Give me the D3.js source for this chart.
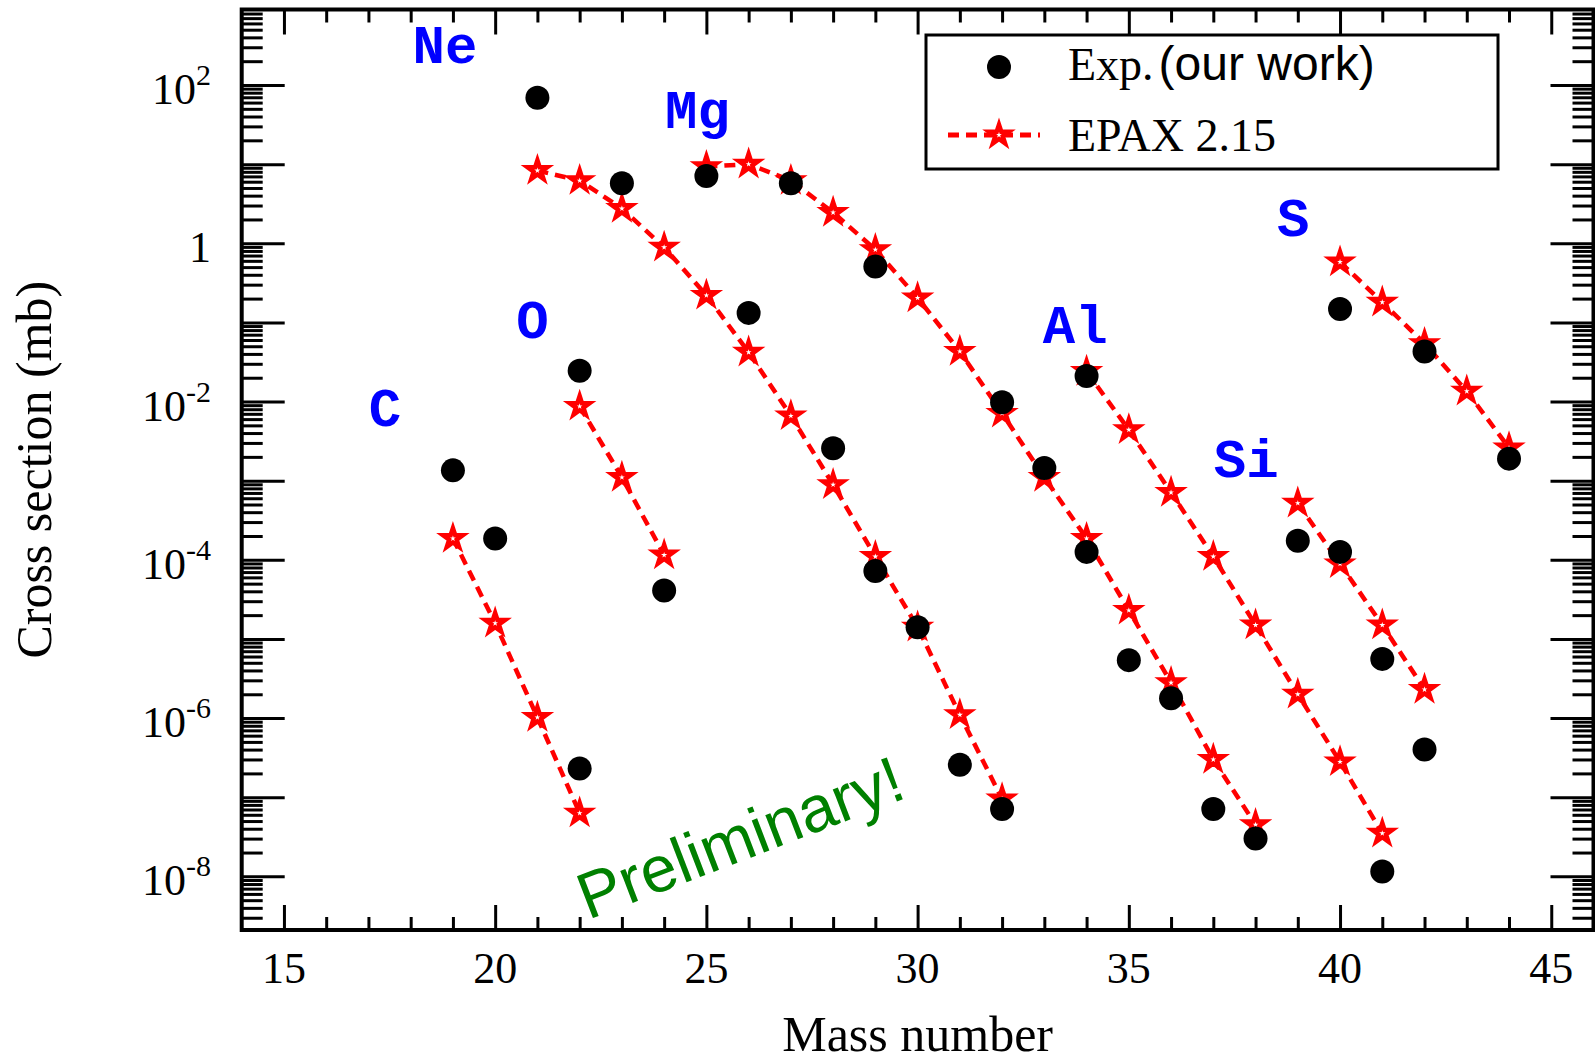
<!DOCTYPE html>
<html>
<head>
<meta charset="utf-8">
<script src="https://cdn.jsdelivr.net/npm/d3@7"></script>
<style>
  body { margin: 0; background: #fff; }
  svg { display: block; }
  .serif { font-family: "Liberation Serif", "Times New Roman", serif; }
  .sans { font-family: "Liberation Sans", Arial, sans-serif; }
  .mono { font-family: "Liberation Mono", "Courier New", monospace; font-weight: bold; }
</style>
</head>
<body>
<div id="chart"></div>
<script>
// tick values
const massTicks = [15, 20, 25, 30, 35, 40, 45];
const sigmaLabelExps = [2, 0, -2, -4, -6, -8];

// measured cross sections [mass number, sigma in mb]
const expC  = [[19, 1.35e-3], [20, 1.86e-4], [22, 2.3e-7]];
const expO  = [[22, 2.45e-2], [24, 4.1e-5]];
const expNe = [[21, 69], [23, 5.75], [26, 0.132], [28, 2.57e-3], [29, 7.2e-5], [30, 1.41e-5], [31, 2.57e-7], [32, 7.1e-8]];
const expMg = [[25, 7.1], [27, 5.75], [29, 0.51], [32, 9.8e-3], [33, 1.45e-3], [34, 1.26e-4], [35, 5.4e-6], [36, 1.78e-6], [37, 7.1e-8], [38, 3.0e-8]];
const expAl = [[34, 2.1e-2], [41, 1.15e-8]];
const expSi = [[39, 1.74e-4], [40, 1.26e-4], [41, 5.6e-6], [42, 4.0e-7]];
const expS  = [[40, 0.148], [42, 4.3e-2], [44, 1.9e-3]];

// EPAX 2.15 predictions
const epaxC  = [[19, 1.86e-4], [20, 1.58e-5], [21, 1.02e-6], [22, 6.3e-8]];
const epaxO  = [[22, 8.7e-3], [23, 1.1e-3], [24, 1.15e-4]];
const epaxNe = [[21, 8.3], [22, 6.2], [23, 2.75], [24, 0.89], [25, 0.22], [26, 4.2e-2], [27, 6.6e-3], [28, 8.9e-4], [29, 1.1e-4], [30, 1.41e-5], [31, 1.1e-6], [32, 9.5e-8]];
const epaxMg = [[25, 9.3], [26, 10], [27, 6.2], [28, 2.45], [29, 0.83], [30, 0.204], [31, 4.3e-2], [32, 7.1e-3], [33, 1.1e-3], [34, 1.86e-4], [35, 2.3e-5], [36, 2.8e-6], [37, 3.0e-7], [38, 4.5e-8]];
const epaxAl = [[34, 2.4e-2], [35, 4.4e-3], [36, 7.1e-4], [37, 1.1e-4], [38, 1.5e-5], [39, 2.0e-6], [40, 2.8e-7], [41, 3.5e-8]];
const epaxSi = [[39, 5.2e-4], [40, 8.9e-5], [41, 1.5e-5], [42, 2.3e-6]];
const epaxS  = [[40, 0.58], [41, 0.18], [42, 5.4e-2], [43, 1.35e-2], [44, 2.6e-3]];

// element names and where they are written (mass number, sigma)
const elementNames = ['Ne', 'Mg', 'O', 'C', 'Al', 'Si', 'S'];
const elementLabelAt = [[18.81, 188], [24.79, 28.4], [20.88, 6.27e-2], [17.39, 4.94e-3], [33.73, 5.56e-2], [37.78, 1.12e-3], [38.89, 1.24]];

const W = 1595, H = 1064;
const plotLeft = 241.7, plotRight = 1593.5, plotTop = 9.5, plotBottom = 930;
const red = '#ff0000';

const svg = d3.select('#chart').append('svg')
  .attr('width', W)
  .attr('height', H);

const x = d3.scaleLinear().domain([14, 46]).range([plotLeft, plotRight]);
const y = d3.scaleLog().domain([2.1e-9, 900]).range([plotBottom, plotTop]);

// ticks
const majorX = massTicks;
const minorX = d3.range(15, 46).filter(d => d % 5 !== 0);
const majorY = d3.range(-8, 3).map(e => Math.pow(10, e));
const minorY = [];
for (let e = -9; e <= 2; e++) {
  for (let k = 2; k <= 9; k++) {
    const v = k * Math.pow(10, e);
    if (v > 2.1e-9 && v < 900) minorY.push(v);
  }
}

function tickAxis(axis, tx, ty) {
  const g = svg.append('g')
    .attr('transform', 'translate(' + tx + ',' + ty + ')')
    .call(axis.tickSizeOuter(0).tickFormat(''));
  g.select('.domain').remove();
  g.selectAll('line').attr('stroke', '#000').attr('stroke-width', 3);
}

tickAxis(d3.axisBottom(x).tickValues(majorX).tickSizeInner(-25), 0, plotBottom);
tickAxis(d3.axisBottom(x).tickValues(minorX).tickSizeInner(-13), 0, plotBottom);
tickAxis(d3.axisTop(x).tickValues(majorX).tickSizeInner(-25), 0, plotTop);
tickAxis(d3.axisTop(x).tickValues(minorX).tickSizeInner(-13), 0, plotTop);
tickAxis(d3.axisLeft(y).tickValues(majorY).tickSizeInner(-43), plotLeft, 0);
tickAxis(d3.axisLeft(y).tickValues(minorY).tickSizeInner(-21), plotLeft, 0);
tickAxis(d3.axisRight(y).tickValues(majorY).tickSizeInner(-43), plotRight, 0);
tickAxis(d3.axisRight(y).tickValues(minorY).tickSizeInner(-21), plotRight, 0);

// frame
svg.append('rect')
  .attr('x', plotLeft).attr('y', plotTop)
  .attr('width', plotRight - plotLeft).attr('height', plotBottom - plotTop)
  .attr('fill', 'none').attr('stroke', '#000').attr('stroke-width', 4);

// tick labels
svg.append('g').selectAll('text')
  .data(massTicks)
  .enter().append('text')
  .attr('class', 'serif')
  .attr('x', d => x(d))
  .attr('y', 983)
  .attr('text-anchor', 'middle')
  .attr('font-size', 44)
  .text(d => d);

const yLabels = svg.append('g').selectAll('text')
  .data(sigmaLabelExps)
  .enter().append('text')
  .attr('class', 'serif')
  .attr('x', 211)
  .attr('y', d => y(Math.pow(10, d)) + 19)
  .attr('text-anchor', 'end')
  .attr('font-size', 44);
yLabels.each(function(d) {
  const t = d3.select(this);
  if (d === 0) { t.text('1'); return; }
  t.append('tspan').text('10');
  t.append('tspan').attr('font-size', 30).attr('dy', -19).text(d);
});

// axis titles
svg.append('text')
  .attr('class', 'serif')
  .attr('x', (plotLeft + plotRight) / 2)
  .attr('y', 1051)
  .attr('text-anchor', 'middle')
  .attr('font-size', 50)
  .text('Mass number');

svg.append('text')
  .attr('class', 'serif')
  .attr('transform', 'translate(51,' + ((plotTop + plotBottom) / 2) + ') rotate(-90)')
  .attr('text-anchor', 'middle')
  .attr('font-size', 50)
  .text('Cross section (mb)');

// EPAX lines and stars
const star = d3.symbol().type(d3.symbolStar).size(120);
const line = d3.line().x(d => x(d[0])).y(d => y(d[1]));
const epax = [epaxC, epaxO, epaxNe, epaxMg, epaxAl, epaxSi, epaxS];
const exp = [expC, expO, expNe, expMg, expAl, expSi, expS];

const plot = svg.append('g');
epax.forEach(series => {
  plot.append('path')
    .datum(series)
    .attr('d', line)
    .attr('fill', 'none')
    .attr('stroke', red)
    .attr('stroke-width', 4.5)
    .attr('stroke-dasharray', '11,7');
});
epax.forEach(series => {
  plot.selectAll(null)
    .data(series)
    .enter().append('path')
    .attr('d', star)
    .attr('transform', d => 'translate(' + x(d[0]) + ',' + y(d[1]) + ')')
    .attr('fill', 'white')
    .attr('stroke', red)
    .attr('stroke-width', 4.5);
});
exp.forEach(series => {
  plot.selectAll(null)
    .data(series)
    .enter().append('circle')
    .attr('cx', d => x(d[0]))
    .attr('cy', d => y(d[1]))
    .attr('r', 12)
    .attr('fill', '#000');
});

// element names
svg.append('g').selectAll('text')
  .data(elementNames)
  .enter().append('text')
  .attr('class', 'mono')
  .attr('x', (d, i) => x(elementLabelAt[i][0]))
  .attr('y', (d, i) => y(elementLabelAt[i][1]))
  .attr('text-anchor', 'middle')
  .attr('font-size', 54)
  .attr('fill', '#0000ff')
  .text(d => d);

// preliminary stamp
svg.append('text')
  .attr('class', 'sans')
  .attr('transform', 'translate(588,920) rotate(-21)')
  .attr('font-size', 65)
  .attr('fill', '#008000')
  .text('Preliminary!');

// legend
const legend = svg.append('g').attr('class', 'legend');
legend.append('rect')
  .attr('x', 926).attr('y', 35)
  .attr('width', 572).attr('height', 134)
  .attr('fill', 'white').attr('stroke', '#000').attr('stroke-width', 3);
legend.append('circle')
  .attr('cx', 999).attr('cy', 67).attr('r', 12).attr('fill', '#000');
const expText = legend.append('text')
  .attr('x', 1068).attr('y', 80)
  .attr('font-size', 46);
expText.append('tspan').attr('class', 'serif').text('Exp.');
expText.append('tspan').attr('class', 'sans').attr('font-size', 48).attr('dx', 5).text('(our work)');
legend.append('line')
  .attr('x1', 948).attr('x2', 1040)
  .attr('y1', 135).attr('y2', 135)
  .attr('stroke', red).attr('stroke-width', 5)
  .attr('stroke-dasharray', '11,7');
legend.append('path')
  .attr('d', star)
  .attr('transform', 'translate(999,135)')
  .attr('fill', 'white').attr('stroke', red).attr('stroke-width', 4.5);
legend.append('text')
  .attr('class', 'serif')
  .attr('x', 1068).attr('y', 151)
  .attr('font-size', 46)
  .text('EPAX 2.15');
</script>
</body>
</html>
